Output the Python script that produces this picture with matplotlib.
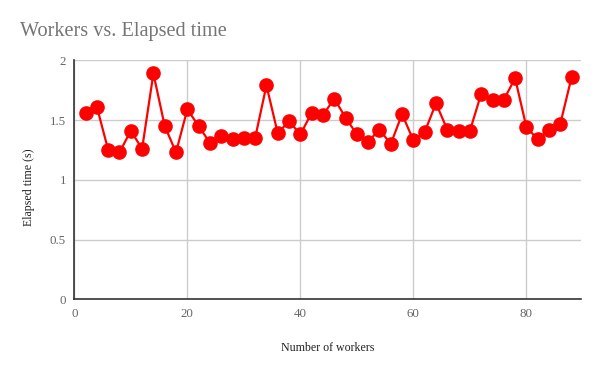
import matplotlib
matplotlib.use("Agg")
import matplotlib.pyplot as plt

workers = [2, 4, 6, 8, 10, 12, 14, 16, 18, 20, 22, 24, 26, 28, 30, 32, 34, 36, 38, 40,
           42, 44, 46, 48, 50, 52, 54, 56, 58, 60, 62, 64, 66, 68, 70, 72, 74, 76, 78, 80,
           82, 84, 86, 88]
elapsed = [1.56, 1.61, 1.25, 1.23, 1.41, 1.26, 1.89, 1.45, 1.23, 1.59,
           1.45, 1.31, 1.37, 1.34, 1.35, 1.35, 1.79, 1.39, 1.49, 1.38,
           1.56, 1.54, 1.68, 1.52, 1.38, 1.32, 1.42, 1.30, 1.55, 1.33,
           1.40, 1.64, 1.42, 1.41, 1.41, 1.72, 1.67, 1.67, 1.85, 1.44,
           1.34, 1.42, 1.47, 1.86]
xticks = [0, 20, 40, 60, 80]
yticks = [0, 0.5, 1, 1.5, 2]
ytick_labels = ["0", "0.5", "1", "1.5", "2"]

plt.rcParams['font.family'] = ['Liberation Serif', 'DejaVu Serif']

fig = plt.figure(figsize=(6, 3.71), dpi=100)
ax = fig.add_axes([0.1238, 0.193, 0.844, 0.6445])

ax.plot(workers, elapsed, color='#ff0000', linewidth=1.6, marker='o',
        markersize=9.5, markerfacecolor='#ff0000', markeredgecolor='#ff0000', zorder=3,
        clip_on=False)

ax.set_xlim(0, 89.6)
ax.set_ylim(0, 2)
ax.set_xticks(xticks)
ax.set_yticks(yticks)
ax.set_yticklabels(ytick_labels)
ax.grid(True, color='#cccccc', linewidth=1)
ax.set_axisbelow(True)
for s in ['top', 'right']:
    ax.spines[s].set_visible(False)
for s in ['left', 'bottom']:
    ax.spines[s].set_color('#333333')
    ax.spines[s].set_linewidth(1.2)
ax.tick_params(axis='both', length=0, labelsize=9.3, labelcolor='#666666', pad=6)

ax.set_xlabel('Number of workers', fontsize=8.6, color='#222222', labelpad=16)
ax.set_ylabel('Elapsed time (s)', fontsize=8.6, color='#222222', labelpad=11)
ax.yaxis.label.set_y(0.47)
fig.text(0.033, 0.915, 'Workers vs. Elapsed time', fontsize=14.6, color='#757575',
         ha='left', va='center')

fig.savefig('out.png', dpi=100, facecolor='white')
